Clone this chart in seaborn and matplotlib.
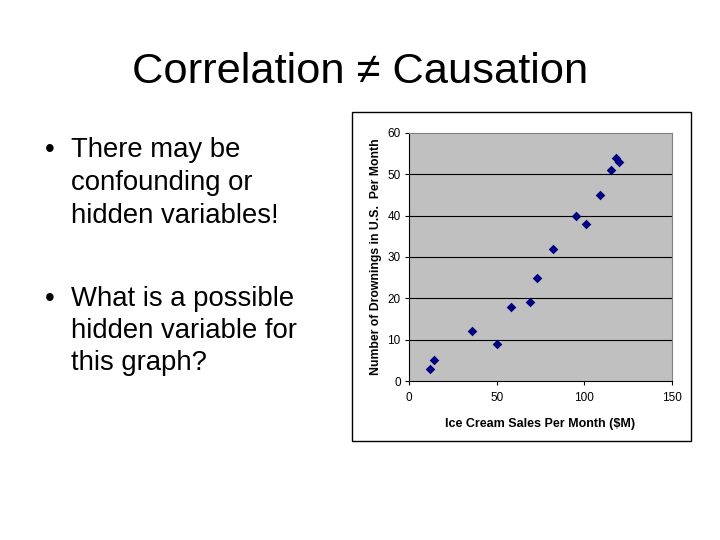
import matplotlib
matplotlib.use("Agg")
import matplotlib.pyplot as plt
from matplotlib.patches import Rectangle
import seaborn as sns
import pandas as pd

# Data
ice_cream_sales = [12, 14, 36, 50, 58, 69, 73, 82, 95, 101, 109, 115, 118, 120]
drownings = [3, 5, 12, 9, 18, 19, 25, 32, 40, 38, 45, 51, 54, 53]
x_ticks = [0, 50, 100, 150]
y_ticks = [0, 10, 20, 30, 40, 50, 60]

title_text = "Correlation \u2260 Causation"
bullet1 = ["There may be", "confounding or", "hidden variables!"]
bullet2 = ["What is a possible", "hidden variable for", "this graph?"]
x_label = "Ice Cream Sales Per Month ($M)"
y_label = "Number of Drownings in U.S.  Per Month"

sns.set_theme(style="white")
plt.rcParams['font.family'] = ['Liberation Sans', 'DejaVu Sans']

W, H = 720, 540
fig = plt.figure(figsize=(7.2, 5.4), dpi=100)
fig.patch.set_facecolor("white")

def fx(px):
    return px / W

def fy(py):
    return (H - py) / H

# Title
fig.text(fx(360), fy(83), title_text, ha="center", va="baseline", fontsize=31.2, color="black")

# Bullets
def draw_bullet(lines, baselines):
    fig.text(fx(45), fy(baselines[0]), "\u2022", ha="left", va="baseline", fontsize=19.8, color="black")
    for line, b in zip(lines, baselines):
        fig.text(fx(71), fy(b), line, ha="left", va="baseline", fontsize=19.8, color="black")

draw_bullet(bullet1, [157, 190, 223])
draw_bullet(bullet2, [306, 338, 370])

# Chart border box
fig.patches.append(Rectangle((fx(352), fy(441)), (691 - 352) / W, (441 - 112) / H,
                             transform=fig.transFigure, fill=False, edgecolor="black",
                             linewidth=1.0, zorder=0))

# Axes
left, right, top, bottom = 409, 672, 133, 381
ax = fig.add_axes([fx(left), fy(bottom), (right - left) / W, (bottom - top) / H])
ax.set_facecolor("#C0C0C0")

df = pd.DataFrame({"sales": ice_cream_sales, "drown": drownings})
sns.scatterplot(data=df, x="sales", y="drown", ax=ax, marker="D", color="#000080",
                s=24, edgecolor="#000080", linewidth=0, zorder=3)

ax.set_xlim(0, 150)
ax.set_ylim(0, 60)
ax.set_xticks(x_ticks)
ax.set_yticks(y_ticks)
ax.set_xticklabels([str(t) for t in x_ticks], fontsize=8.5)
ax.set_yticklabels([str(t) for t in y_ticks], fontsize=8.5)

for yv in y_ticks[1:-1]:
    ax.axhline(yv, color="black", linewidth=0.8, zorder=1)

for s in ["top", "right"]:
    ax.spines[s].set_color("#808080")
    ax.spines[s].set_linewidth(0.8)
for s in ["left", "bottom"]:
    ax.spines[s].set_color("black")
    ax.spines[s].set_linewidth(0.8)

ax.tick_params(axis="x", direction="out", length=3, width=0.8, color="black",
               labelcolor="black", pad=5, bottom=True)
ax.tick_params(axis="y", direction="out", length=3, width=0.8, color="black",
               labelcolor="black", pad=3, left=True)

ax.set_xlabel(x_label, fontsize=9, fontweight="bold", color="black", labelpad=10)
ax.set_ylabel(y_label, fontsize=8.8, fontweight="bold", color="black", labelpad=4)

fig.savefig("out.png", dpi=100)
